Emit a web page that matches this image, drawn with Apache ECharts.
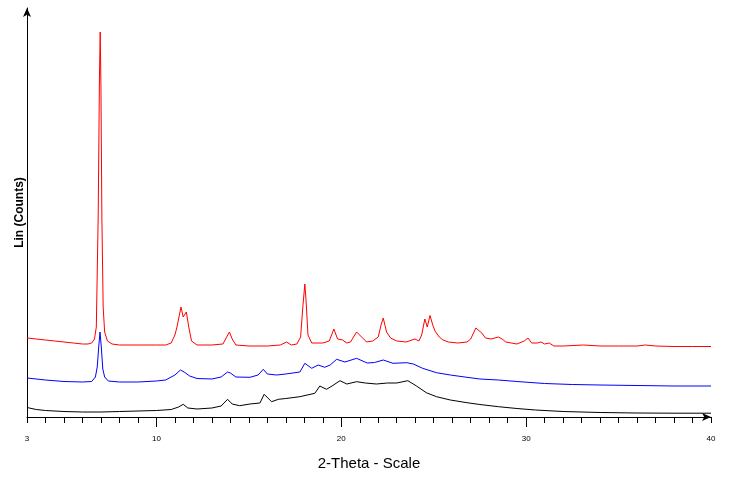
<!DOCTYPE html>
<html>
<head>
<meta charset="utf-8">
<script src="https://cdn.jsdelivr.net/npm/echarts@6/dist/echarts.min.js"></script>
<style>
  html, body { margin: 0; padding: 0; background: #fff; }
  #myChart { width: 730px; height: 478px; }
</style>
</head>
<body>
<div id="myChart"></div>
<script>
// 2-Theta positions / intensities (counts = height above the axis)
var redTheta = [3.0, 3.5, 4.0, 4.5, 5.0, 5.5, 6.0, 6.3, 6.5, 6.65, 6.75, 6.85, 6.92, 6.96, 7.0, 7.05, 7.12, 7.2, 7.35, 7.6,
  8.0, 9.0, 10.0, 10.5, 10.8, 11.0, 11.1, 11.2, 11.33, 11.45, 11.5, 11.62, 11.75, 11.9, 12.2, 13.0, 13.6, 13.8, 13.95, 14.1,
  14.3, 15.0, 16.0, 16.7, 17.04, 17.3, 17.6, 17.8, 17.92, 18.03, 18.1, 18.2, 18.4, 19.0, 19.35, 19.6, 19.8, 20.07, 20.3, 20.5,
  20.83, 21.1, 21.37, 21.7, 22.0, 22.15, 22.27, 22.45, 22.67, 23.0, 23.5, 23.98, 24.2, 24.35, 24.52, 24.65, 24.8, 24.95, 25.07, 25.3,
  25.5, 25.8, 26.3, 26.8, 27.0, 27.28, 27.6, 27.8, 28.1, 28.5, 28.7, 28.9, 29.5, 29.9, 30.1, 30.3, 30.6, 30.8, 31.0, 31.25,
  31.5, 32.0, 33.1, 34.0, 35.0, 36.0, 36.45, 37.0, 38.0, 39.0, 40.0];
var redCounts = [79, 78, 77, 76, 75, 74, 73, 73, 74, 78, 90, 200, 340, 385, 330, 200, 110, 85, 76, 73,
  72, 72, 72, 72, 74, 82, 89, 98, 110, 100, 98, 105, 90, 76, 72, 72, 73, 80, 85, 78,
  72, 71, 71, 72, 75, 72, 73, 80, 110, 133, 115, 82, 74, 74, 76, 88, 78, 77, 74, 75,
  85, 80, 75, 76, 80, 92, 99, 85, 79, 76, 75, 78, 76, 82, 98, 90, 101.5, 92, 86, 80,
  77, 75, 74, 75, 78, 89, 84, 79, 78, 80, 78, 75, 73, 76, 79, 74, 74, 75, 73, 74,
  71, 71, 72, 71, 71, 71, 72, 71, 70.5, 70.5, 70.5];

var blueTheta = [3.0, 4.0, 5.0, 6.0, 6.5, 6.7, 6.8, 6.88, 6.95, 7.02, 7.1, 7.2, 7.4, 8.0, 9.0, 10.0, 10.5, 11.0, 11.3, 11.5,
  11.8, 12.2, 13.0, 13.5, 13.85, 14.0, 14.3, 15.06, 15.5, 15.78, 16.0, 16.5, 17.0, 17.76, 18.03, 18.4, 18.75, 19.1, 19.4, 19.75,
  20.2, 20.83, 21.4, 21.8, 22.27, 22.8, 23.54, 23.9, 24.4, 25.15, 25.9, 26.8, 27.5, 28.5, 29.5, 31.0, 32.5, 34.0, 36.0, 38.0,
  40.0];
var blueCounts = [39, 37, 35.5, 35, 35.5, 40, 50, 70, 85, 70, 48, 40, 36, 35, 35, 36, 37, 42, 47, 45,
  41, 38.5, 38, 40, 45, 44, 40, 39.7, 42, 47.7, 43, 42, 43, 45, 53.7, 48.7, 52, 49.7, 52, 57.7,
  55, 58.7, 54, 54.5, 57, 53.7, 54.3, 53, 48.7, 44.3, 42, 39.7, 38, 37, 35.5, 33.5, 32.5, 32, 31.5, 31,
  31];

var blackTheta = [3.0, 3.5, 4.0, 5.0, 6.0, 7.0, 8.0, 9.0, 10.0, 10.8, 11.2, 11.45, 11.7, 12.2, 13.0, 13.5, 13.85, 14.1, 14.5, 15.06,
  15.6, 15.83, 16.23, 16.6, 17.0, 17.76, 18.57, 18.84, 19.2, 19.5, 19.93, 20.3, 20.83, 21.3, 21.9, 22.5, 23.0, 23.6, 24.07, 24.6,
  25.15, 25.9, 26.8, 27.5, 28.5, 29.5, 30.5, 32.0, 34.0, 36.0, 38.0, 40.0];
var blackCounts = [9.5, 7.5, 6.5, 5.5, 5, 5, 5.5, 6, 6.5, 7.5, 10, 12.7, 9, 8, 9, 11, 17.7, 13, 11.3, 13,
  14, 22.7, 15.3, 17.7, 18.5, 20.3, 23.7, 31, 27.7, 31, 36.3, 33, 35.3, 34, 33, 34, 34, 36.3, 31, 24.3,
  20.3, 17, 14.3, 12.5, 10.3, 8.5, 7, 5.5, 4.5, 4, 3.8, 3.8];

var tickValues = [];
for (var t = 3; t <= 40; t++) tickValues.push(t);
var labelValues = [3, 10, 20, 30, 40];
var longTicks = [10, 20, 30];

function pairs (xs, ys) {
  return xs.map(function (x, i) { return [x, ys[i]] })
}

function line (name, color, xs, ys) {
  return {
    name: name,
    type: 'line',
    data: pairs(xs, ys),
    symbol: 'none',
    smooth: false,
    lineStyle: { color: color, width: 1 },
    itemStyle: { color: color },
    silent: true
  }
}

var myChart = echarts.init(document.getElementById('myChart'), null, { renderer: 'canvas' });
var option = {
  animation: false,
  backgroundColor: '#fff',
  grid: { left: 27, right: 19, top: 8, bottom: 61 },
  xAxis: [
    {
      type: 'value',
      min: 3,
      max: 40,
      name: '2-Theta - Scale',
      nameLocation: 'middle',
      nameGap: 39,
      nameTextStyle: { fontFamily: 'Liberation Sans', fontSize: 15, color: '#000' },
      axisLine: { lineStyle: { color: '#000', width: 1 }, symbol: ['none', 'arrow'], symbolSize: [6, 9] },
      axisTick: { show: true, inside: false, length: 6, customValues: tickValues, lineStyle: { color: '#000' } },
      axisLabel: { customValues: labelValues, margin: 18, fontFamily: 'Liberation Sans', fontSize: 8, color: '#000' },
      splitLine: { show: false }
    },
    {
      type: 'value',
      min: 3,
      max: 40,
      position: 'bottom',
      axisLine: { show: false },
      axisTick: { show: true, length: 10, customValues: longTicks, lineStyle: { color: '#000' } },
      axisLabel: { show: false },
      splitLine: { show: false }
    }
  ],
  yAxis: {
    type: 'value',
    min: 0,
    max: 409,
    name: 'Lin (Counts)',
    nameLocation: 'middle',
    nameGap: 1,
    nameTextStyle: { fontFamily: 'Liberation Sans', fontSize: 12, fontWeight: 'bold', color: '#000' },
    axisLine: { show: true, lineStyle: { color: '#000', width: 1 }, symbol: ['none', 'arrow'], symbolSize: [6, 9] },
    axisTick: { show: false },
    axisLabel: { show: false },
    splitLine: { show: false }
  },
  series: [
    line('Black', '#000000', blackTheta, blackCounts),
    line('Blue', '#0000ff', blueTheta, blueCounts),
    line('Red', '#ff0000', redTheta, redCounts)
  ]
};
myChart.setOption(option);
</script>
</body>
</html>
